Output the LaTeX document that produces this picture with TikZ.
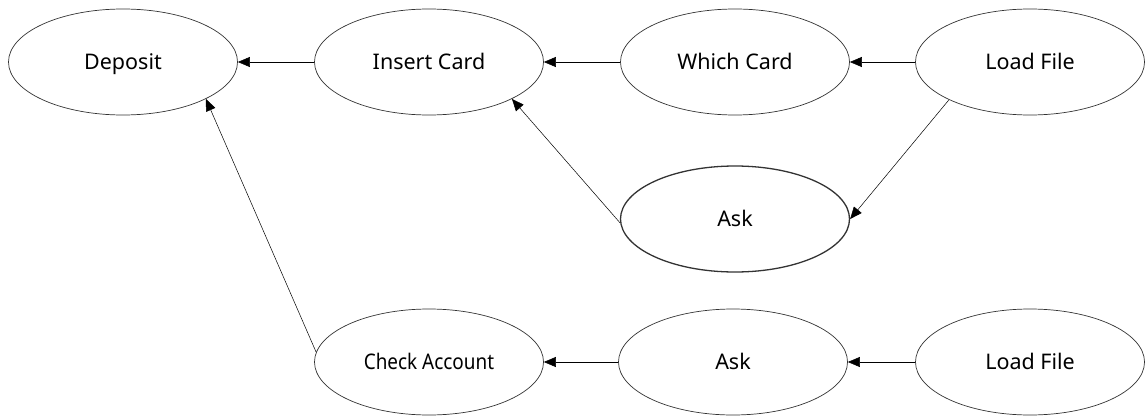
\documentclass[tikz,border=0pt]{standalone}
\usepackage{fontspec}
\setmainfont{Noto Sans}
\newfontfamily\narrowfont[FakeStretch=0.88]{Noto Sans}
\usetikzlibrary{shapes,arrows.meta}

\begin{document}
\begin{tikzpicture}[x=1pt,y=-1pt]
\tikzstyle{every node}+=[inner sep=0pt]
\tikzstyle{state}=[draw=black!80,ellipse,line width=0.7pt,minimum width=229pt,minimum height=106pt,text height=18pt,text depth=2.6pt,font=\fontsize{21.5}{24}\selectfont]
\tikzstyle{link}=[black,line width=0.5pt,-{Triangle[length=12pt,width=10pt]}]
\useasboundingbox (0,0) rectangle (1145,417);
% top row
\node [state] (deposit) at (123,62) {Deposit};
\node [state] (insert) at (429,62) {Insert Card};
\node [state] (which) at (735,62) {Which Card};
\node [state] (load) at (1030,62) {Load File};
% middle
\node [state,line width=1.3pt] (ask) at (735,219) {Ask};
% bottom row
\node [state] (check) at (429,362) {\narrowfont Check Account};
\node [state] (asktwo) at (733,362) {Ask};
\node [state] (loadtwo) at (1030,362) {Load File};
% arrows
\draw [link] (insert.west) -- (deposit.east);
\draw [link] (which.west) -- (insert.east);
\draw [link] (load.west) -- (which.east);
\draw [link] (load.205) -- (ask.east);
\draw [link] (ask.182) -- (insert.-24);
\draw [link] (check.175) -- (deposit.-24);
\draw [link] (asktwo.west) -- (check.east);
\draw [link] (loadtwo.west) -- (asktwo.east);
\end{tikzpicture}
\end{document}
